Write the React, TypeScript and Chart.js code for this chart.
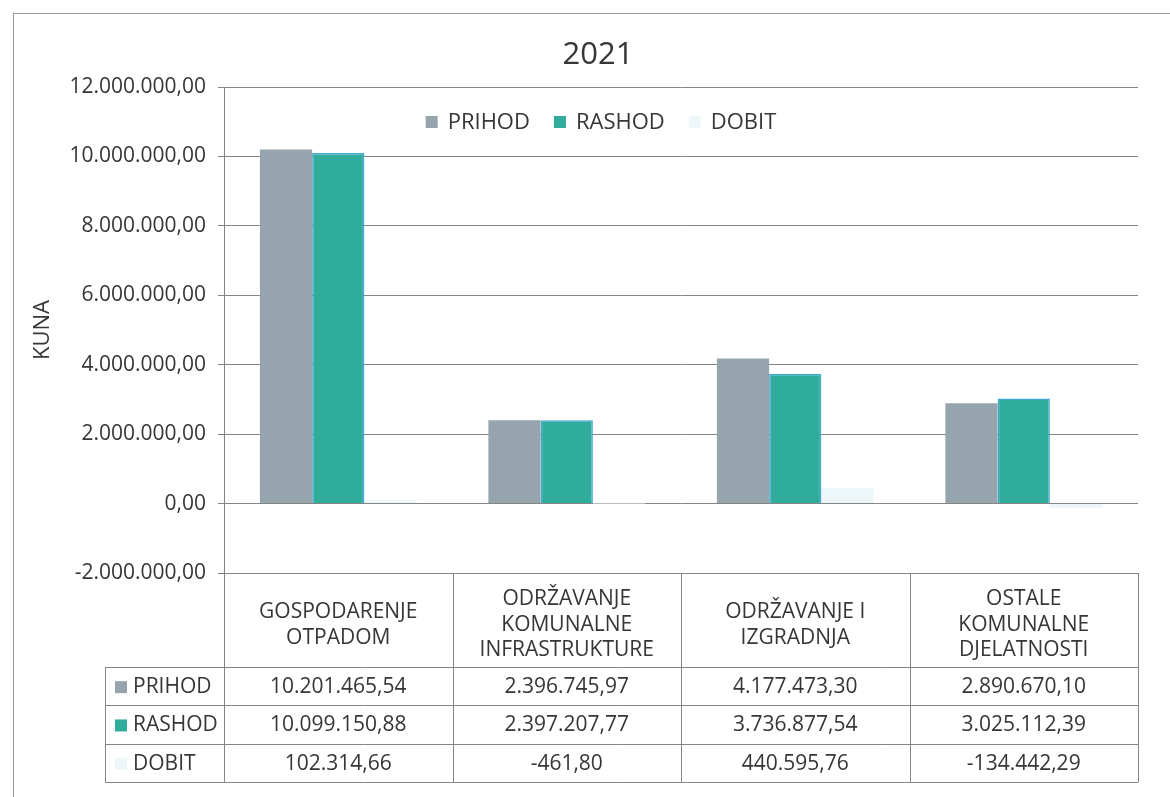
import React, { useEffect, useRef } from "react";
import { Chart, registerables } from "chart.js";

Chart.register(...registerables);

const TITLE = "2021";
const Y_TITLE = "KUNA";
const categories: string[][] = [
  ["GOSPODARENJE", "OTPADOM"],
  ["ODRŽAVANJE", "KOMUNALNE", "INFRASTRUKTURE"],
  ["ODRŽAVANJE I", "IZGRADNJA"],
  ["OSTALE", "KOMUNALNE", "DJELATNOSTI"],
];
const seriesNames = ["PRIHOD", "RASHOD", "DOBIT"];
const prihod = [10201465.54, 2396745.97, 4177473.3, 2890670.1];
const rashod = [10099150.88, 2397207.77, 3736877.54, 3025112.39];
const dobit = [102314.66, -461.8, 440595.76, -134442.29];
const yMin = -2000000;
const yMax = 12000000;
const yStep = 2000000;

const colors = ["#96a5ad", "#30ac9d", "#edf6f8"];
const borders = ["#96a5ad", "#3fa9d4", "#edf6f8"];

const FONT = "'Open Sans', 'Noto Sans', sans-serif";
const TEXT = "#363636";
const LINE = "#858585";
const FS = 21;

function fmt(v: number): string {
  const neg = v < 0;
  const fixed = Math.abs(v).toFixed(2);
  const [i, d] = fixed.split(".");
  const ip = i.replace(/\B(?=(\d{3})+(?!\d))/g, ".");
  return (neg ? "-" : "") + ip + "," + d;
}

const tablePlugin = {
  id: "excelExtras",
  afterDraw(chart: any) {
    const ctx = chart.ctx as CanvasRenderingContext2D;
    const area = chart.chartArea;
    const xs = chart.scales.x;
    const n = categories.length;
    const catW = (area.right - area.left) / n;
    ctx.save();

    // outer frame
    ctx.strokeStyle = "#9a9a9a";
    ctx.lineWidth = 1;
    ctx.strokeRect(13.5, 13.5, 1200, 820);

    // title
    ctx.fillStyle = TEXT;
    ctx.font = `31px ${FONT}`;
    ctx.textAlign = "center";
    ctx.textBaseline = "middle";
    ctx.fillText(TITLE, 598, 55);

    // y axis title
    ctx.save();
    ctx.translate(43, (area.top + area.bottom) / 2);
    ctx.rotate(-Math.PI / 2);
    ctx.font = `22px ${FONT}`;
    ctx.fillText(Y_TITLE, 0, 0);
    ctx.restore();

    // legend
    ctx.font = `22px ${FONT}`;
    ctx.textAlign = "left";
    const gap = 24;
    const box = 12;
    const tgap = 10;
    const items = seriesNames.map((s) => ({ s, w: box + tgap + ctx.measureText(s).width }));
    const total = items.reduce((a, b) => a + b.w, 0) + gap * (items.length - 1);
    let lx = 601 - total / 2;
    const ly = 122;
    items.forEach((it, i) => {
      ctx.fillStyle = colors[i];
      ctx.fillRect(lx, ly - box / 2, box, box);
      ctx.fillStyle = TEXT;
      ctx.fillText(it.s, lx + box + tgap, ly + 1);
      lx += it.w + gap;
    });

    // table
    const headTop = area.bottom;
    const headBottom = 667;
    const rowH = 38.3;
    const tableLeft = 105;
    const right = area.right;
    const rowsBottom = headBottom + rowH * 3;
    ctx.strokeStyle = LINE;
    ctx.lineWidth = 1;
    ctx.beginPath();
    for (let i = 0; i <= n; i++) {
      const x = Math.round(area.left + i * catW) + 0.5;
      ctx.moveTo(x, headTop);
      ctx.lineTo(x, rowsBottom);
    }
    ctx.moveTo(tableLeft + 0.5, headBottom);
    ctx.lineTo(tableLeft + 0.5, rowsBottom);
    for (let r = 0; r <= 3; r++) {
      const y = Math.round(headBottom + r * rowH) + 0.5;
      ctx.moveTo(tableLeft, y);
      ctx.lineTo(right + 0.5, y);
    }
    ctx.stroke();

    ctx.fillStyle = TEXT;
    ctx.font = `${FS}px ${FONT}`;
    ctx.textAlign = "center";
    ctx.textBaseline = "middle";
    const lineH = 25.5;
    const headCenter = (headTop + headBottom) / 2 + 5;
    categories.forEach((lines, i) => {
      const cx = xs.getPixelForValue(i);
      const start = headCenter - ((lines.length - 1) * lineH) / 2;
      lines.forEach((l, k) => ctx.fillText(l, cx, start + k * lineH));
    });
    const allSeries = [prihod, rashod, dobit];
    allSeries.forEach((vals, r) => {
      const cy = headBottom + rowH * r + rowH / 2 + 1;
      ctx.fillStyle = colors[r];
      ctx.fillRect(115, cy - 6, 12, 12);
      ctx.fillStyle = TEXT;
      ctx.textAlign = "left";
      ctx.fillText(seriesNames[r], 133, cy);
      ctx.textAlign = "center";
      vals.forEach((v, i) => {
        ctx.fillText(fmt(v), xs.getPixelForValue(i), cy);
      });
    });
    ctx.restore();
  },
};

export default function App() {
  const ref = useRef<HTMLCanvasElement | null>(null);
  useEffect(() => {
    if (!ref.current) return;
    Chart.defaults.font.family = FONT;
    const chart = new Chart(ref.current, {
      type: "bar",
      data: {
        labels: categories,
        datasets: [prihod, rashod, dobit].map((d, i) => ({
          label: seriesNames[i],
          data: d,
          backgroundColor: colors[i],
          borderColor: borders[i],
          borderWidth: i === 1 ? 1.5 : 0,
          categoryPercentage: 0.686,
          barPercentage: 1,
        })),
      },
      options: {
        responsive: false,
        animation: false,
        layout: { padding: { top: 87, bottom: 224, left: 0, right: 32 } },
        plugins: {
          legend: { display: false },
          title: { display: false },
          tooltip: { enabled: false },
        },
        scales: {
          x: { display: false },
          y: {
            min: yMin,
            max: yMax,
            afterFit: (scale: any) => {
              scale.width = 224;
            },
            ticks: {
              stepSize: yStep,
              padding: 12,
              color: TEXT,
              font: { size: FS, family: FONT },
              callback: (v: any) => fmt(Number(v)),
            },
            grid: { color: LINE, tickLength: 6, lineWidth: 1 },
            border: { display: true, color: LINE },
          },
        },
      },
      plugins: [tablePlugin],
    });
    return () => chart.destroy();
  }, []);
  return (
    <div style={{ position: "fixed", left: 0, top: 0, width: 1170, height: 797, background: "#fff" }}>
      <canvas ref={ref} width={1170} height={797} style={{ display: "block" }} />
    </div>
  );
}
